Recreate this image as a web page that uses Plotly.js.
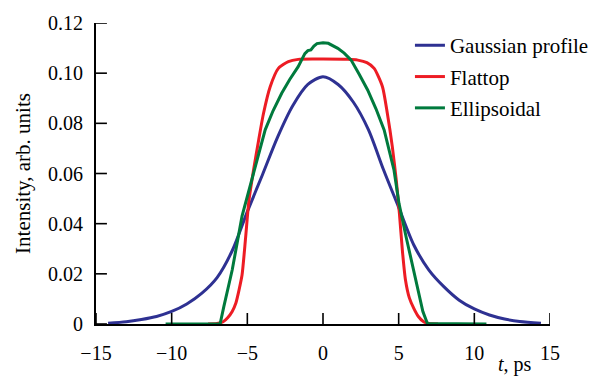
<!DOCTYPE html>
<html>
<head>
<meta charset="utf-8">
<script src="https://cdn.plot.ly/plotly-3.0.1.min.js"></script>
<style>html,body{margin:0;padding:0;background:#fff;}#chart{width:606px;height:376px;}#err{position:absolute;left:100px;top:150px;font:12px monospace;color:#c00;}</style>
</head>
<body>
<div id="chart"></div>
<div id="err"></div>
<script>
window.onerror = function (m) { document.getElementById("err").textContent += " ERR: " + m; };
// Gaussian profile
const gaussT = [-14.2, -13, -12, -11, -10, -9, -8, -7, -6, -5, -4, -3, -2, -1, 0, 1, 2, 3, 4, 5, 6, 7, 8, 9, 10, 11, 12, 13, 14.4];
const gaussV = [0.0003, 0.0009, 0.0018, 0.0030, 0.0050, 0.0080, 0.0123, 0.0185, 0.0292, 0.0448, 0.0595, 0.0745, 0.0870, 0.0955, 0.0986, 0.0955, 0.0885, 0.0775, 0.0615, 0.0465, 0.0315, 0.0215, 0.0148, 0.0095, 0.0060, 0.0036, 0.0020, 0.0010, 0.0003];
// Flattop
const flatT = [-7.6, -7.0, -6.6, -6.3, -6.0, -5.75, -5.55, -5.35, -5.12, -4.9, -4.6, -4.25, -3.93, -3.49, -2.95, -2.29, -1.64, 0, 1.64, 2.3, 2.9, 3.38, 3.93, 4.25, 4.58, 4.84, 5.05, 5.25, 5.45, 5.7, 6.0, 6.3, 6.65, 7.0, 7.6];
const flatV = [0, 0.0002, 0.0009, 0.0025, 0.0050, 0.0085, 0.0135, 0.0195, 0.0340, 0.0490, 0.0610, 0.0734, 0.0840, 0.0946, 0.1019, 0.1046, 0.1055, 0.1056, 0.1055, 0.1052, 0.1042, 0.1019, 0.0946, 0.0840, 0.0707, 0.0574, 0.0440, 0.0290, 0.0175, 0.0105, 0.0062, 0.0030, 0.0009, 0.0002, 0];
// Ellipsoidal
const ellT = [-10.4, -6.8, -6.55, -6.0, -5.35, -4.6, -3.82, -3.3, -2.73, -2.2, -1.64, -1.2, -1.0, -0.8, -0.6, -0.4, 0, 0.35, 0.98, 1.4, 1.85, 2.4, 2.95, 3.5, 4.04, 4.69, 5.02, 5.5, 6.0, 6.6, 6.9, 10.8];
const ellV = [0, 0, 0.0070, 0.0215, 0.0430, 0.0600, 0.0774, 0.0850, 0.0920, 0.0975, 0.1026, 0.1078, 0.1090, 0.1093, 0.1108, 0.1118, 0.1121, 0.1119, 0.1099, 0.1080, 0.1053, 0.0995, 0.0933, 0.0858, 0.0774, 0.0614, 0.0481, 0.0345, 0.0215, 0.0050, 0.0002, 0];

const seriesNames = ["Gaussian profile", "Flattop", "Ellipsoidal"];
const yTickVals = [0, 0.02, 0.04, 0.06, 0.08, 0.10, 0.12];
const yTickText = ["0", "0.02", "0.04", "0.06", "0.08", "0.10", "0.12"];
const xTickVals = [-15, -10, -5, 0, 5, 10, 15];
const xRange = [-15, 15];
const yRange = [0, 0.12];
const xTitle = "<i>t</i>, ps";
const yTitle = "Intensity, arb. units";

const FONT = "Liberation Serif, Times New Roman, serif";

const traces = [
  {x: gaussT, y: gaussV, name: seriesNames[0], mode: "lines", line: {color: "#2e3192", width: 3, shape: "spline", smoothing: 0.8}, legendgroup: "a"},
  {x: flatT, y: flatV, name: seriesNames[1], mode: "lines", line: {color: "#ed1c24", width: 3, shape: "spline", smoothing: 0.6}, legendgroup: "b"},
  {x: ellT, y: ellV, name: seriesNames[2], mode: "lines", line: {color: "#007a3d", width: 3}, legendgroup: "c"}
];

const tickFont = {family: FONT, size: 20, color: "#000"};

// inside tick marks as shapes
const TK = {color: "#000", width: 1.6};
const shapes = [];
xTickVals.forEach(v => shapes.push({type: "line", xref: "x", yref: "paper", x0: v, x1: v, y0: 0, y1: 11 / 301, line: TK}));
yTickVals.forEach(v => shapes.push({type: "line", xref: "paper", yref: "y", x0: 0, x1: 11 / 457, y0: v, y1: v, line: TK}));

const layout = {
  width: 606, height: 376,
  margin: {l: 96, r: 53, t: 23, b: 52},
  paper_bgcolor: "#fff", plot_bgcolor: "#fff",
  font: {family: FONT, size: 20, color: "#000"},
  showlegend: true,
  legend: {x: 0.6915, xanchor: "left", y: 0.993, yanchor: "top", font: {family: FONT, size: 21, color: "#000"}, bgcolor: "rgba(0,0,0,0)", tracegroupgap: 1},
  xaxis: {
    range: xRange, tickvals: xTickVals, ticks: "outside", ticklen: 10, tickcolor: "rgba(0,0,0,0)",
    showline: true, linecolor: "#000", linewidth: 2, showgrid: false, zeroline: false,
    tickfont: tickFont, fixedrange: true
  },
  yaxis: {
    range: yRange, tickvals: yTickVals, ticktext: yTickText, ticks: "outside", ticklen: 7, tickcolor: "rgba(0,0,0,0)",
    showline: true, linecolor: "#000", linewidth: 2, showgrid: false, zeroline: false,
    tickfont: tickFont,
    title: {text: yTitle, font: {family: FONT, size: 21, color: "#000"}, standoff: 12}, fixedrange: true
  },
  shapes: shapes,
  annotations: [
    {text: xTitle, xref: "paper", yref: "paper", x: 0.923, y: -0.133, xanchor: "center", yanchor: "middle", showarrow: false, font: {family: FONT, size: 20, color: "#000"}}
  ]
};

Plotly.newPlot("chart", traces, layout, {displayModeBar: false, staticPlot: true})
  .catch(e => { document.getElementById("err").textContent += " REJ: " + e; });
</script>
</body>
</html>
